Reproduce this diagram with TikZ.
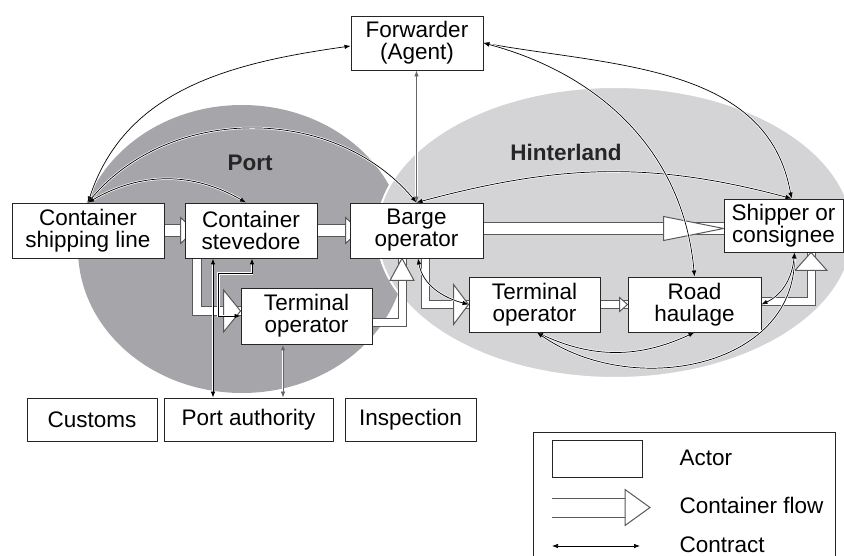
\documentclass[tikz,border=0pt]{standalone}
\usepackage{fontspec}
\setmainfont{Liberation Sans}
\usetikzlibrary{arrows.meta, positioning}
\definecolor{portgray}{RGB}{166,166,170}
\definecolor{hintgray}{RGB}{212,212,215}
\pgfdeclarelayer{regions}
\pgfdeclarelayer{flows}
\pgfsetlayers{regions,flows,main}
\tikzset{
    actor/.style={rectangle, draw=black!85, line width=0.9pt, fill=white, minimum height=55pt, inner sep=2pt, align=center, font=\fontsize{22.5}{22}\selectfont},
    flow/.style={draw=black!65, line width=1pt, double=white, double distance=11pt},
    flowhead/.style={draw=black!65, line width=1pt, fill=white, line join=miter},
    contract/.style={<->, black, line width=0.7pt, preaction={draw=white, line width=2.2pt}},
    pics/fhead/.style 2 args={code={\draw[flowhead] (-#1,-#2) -- (0,0) -- (-#1,#2) -- cycle;}},
}

\begin{document}
\begin{tikzpicture}[
    x=1pt, y=1pt,
    lbl/.style={font=\fontsize{22.5}{22}\selectfont\bfseries, text=black!85},
    legtext/.style={font=\fontsize{22.5}{22}\selectfont, anchor=west},
    >={Latex[length=6pt,width=4.5pt]}
]
\useasboundingbox (0,0) rectangle (844,-556);
\clip (0,0) rectangle (844,-556);

% Regions
\begin{pgfonlayer}{regions}
\fill[portgray] (242,-249) ellipse [x radius=164pt, y radius=144pt];
\filldraw[fill=hintgray, draw=white, line width=2pt] (615,-232.5) ellipse [x radius=238pt, y radius=145.5pt];
\end{pgfonlayer}
\node[lbl] (portlbl) at (250,-163) {Port};
\node[lbl] (hintlbl) at (566,-152) {Hinterland};

% Actors
\node[actor, minimum width=152pt] (ship) at (88,-230.5) {Container\\shipping line};
\node[actor, minimum width=132pt] (stev) at (251,-230.5) {Container\\stevedore};
\node[actor, minimum width=133pt] (barge) at (416.5,-230.5) {Barge\\operator};
\node[actor, minimum width=132pt, minimum height=54pt] (fwd) at (417,-43) {Forwarder\\(Agent)};
\node[actor, minimum width=119pt, minimum height=53pt] (shipper) at (783.5,-225.5) {Shipper or\\consignee};
\node[actor, minimum width=131pt, minimum height=56pt] (term1) at (306.5,-316) {Terminal\\operator};
\node[actor, minimum width=131pt] (term2) at (534.5,-304.5) {Terminal\\operator};
\node[actor, minimum width=133pt] (road) at (694.5,-304.5) {Road\\haulage};
\node[actor, minimum width=130pt, minimum height=43pt] (customs) at (92,-419.5) {Customs};
\node[actor, minimum width=169pt, minimum height=43pt] (pauth) at (248.5,-419.5) {Port authority};
\node[actor, minimum width=131pt, minimum height=43pt] (insp) at (410.5,-419.5) {Inspection};

% Container flows (behind the actors)
\begin{pgfonlayer}{flows}
\draw[flow] (ship.east) -- (stev.west);
\draw[flow] (stev.east) -- (barge.west);
\draw[flow] ([yshift=2pt]barge.east) -- ([yshift=2pt]barge.east -| shipper.west);
\draw[flow, double distance=8pt] ([xshift=-54pt]stev.south) |- ([yshift=5pt]term1.west);
\draw[flow, double distance=7pt] ([yshift=-6.5pt]term1.east) -| ([xshift=-14.5pt]barge.south);
\draw[flow, double distance=7pt] ([xshift=8.5pt]barge.south) |- (term2.west);
\draw[flow, double distance=7pt] (term2.east) -- (road.west);
\draw[flow, double distance=7pt] ([yshift=3pt]road.east) -| ([xshift=27.5pt]shipper.south);
\pic at ([xshift=10pt]stev.west) {fhead={14}{13}};
\pic at ([xshift=10pt]barge.west) {fhead={14}{13}};
\pic at ([yshift=2pt]barge.east -| shipper.west) {fhead={60}{12}};
\pic at ([yshift=5pt]term1.west) {fhead={17}{21}};
\pic[rotate=90] at ([xshift=-14.5pt]barge.south) {fhead={22}{12}};
\pic at (term2.west) {fhead={15}{20}};
\pic at (road.west) {fhead={8}{7}};
\pic[rotate=90] at ([xshift=27.5pt]shipper.south) {fhead={18}{16}};
\end{pgfonlayer}

% Contracts
\draw[contract] (ship.north) to[out=72,in=188] ([yshift=-3pt]fwd.west);
\draw[contract] (ship.north) to[out=50,in=130] (barge.north);
\draw[contract] (ship.north) to[out=30,in=150] ([xshift=-5pt]stev.north);
\draw[contract, black!60] (barge.north) -- (barge.north |- fwd.south);
\draw[contract] (barge.north) to[out=15,in=165] ([xshift=8pt]shipper.north);
\draw[contract] (fwd.east) to[out=-10,in=100] ([xshift=8pt]shipper.north);
\draw[contract] (fwd.east) to[out=-15,in=95] (road.north);
\draw[contract] ([xshift=-38pt]stev.south) -- ([xshift=-38pt]stev.south |- pauth.north);
\draw[contract] (term1.west) -- ++(-22,0) |- ([xshift=1pt,yshift=-15pt]stev.south) -- ([xshift=1pt]stev.south);
\draw[contract, black!60] ([xshift=-23.5pt]term1.south) -- ([xshift=-23.5pt]term1.south |- pauth.north);
\draw[contract] ([xshift=1.5pt]barge.south) to[out=-80,in=165] (term2.west);
\draw[contract] ([xshift=2.5pt]term2.south) to[out=-25,in=-155] (road.south);
\draw[contract] ([xshift=2.5pt]term2.south) to[out=-35,in=-90,looseness=1.1] ([xshift=11pt]shipper.south);
\draw[contract] (road.east) to[out=25,in=-95] ([xshift=11pt]shipper.south);

% Legend
\draw[black!85, line width=0.9pt] (533,-432) rectangle (835,-575);
\node[actor, minimum width=90pt, minimum height=37pt] (lact) at (597,-458.5) {};
\node[legtext] (lacttxt) at (676,-458) {Actor};
\coordinate (lflow) at (552,-507.5);
\draw[flow, double distance=18pt] (lflow) -- ++(75,0) coordinate (lflowend);
\pic at ([xshift=23pt]lflowend) {fhead={25}{18}};
\node[legtext] (lflowtxt) at (676,-505) {Container flow};
\coordinate (lcon) at (552,-546);
\draw[contract] (lcon) -- ++(88,0);
\node[legtext] (lcontxt) at (676,-545) {Contract};

\end{tikzpicture}
\end{document}
